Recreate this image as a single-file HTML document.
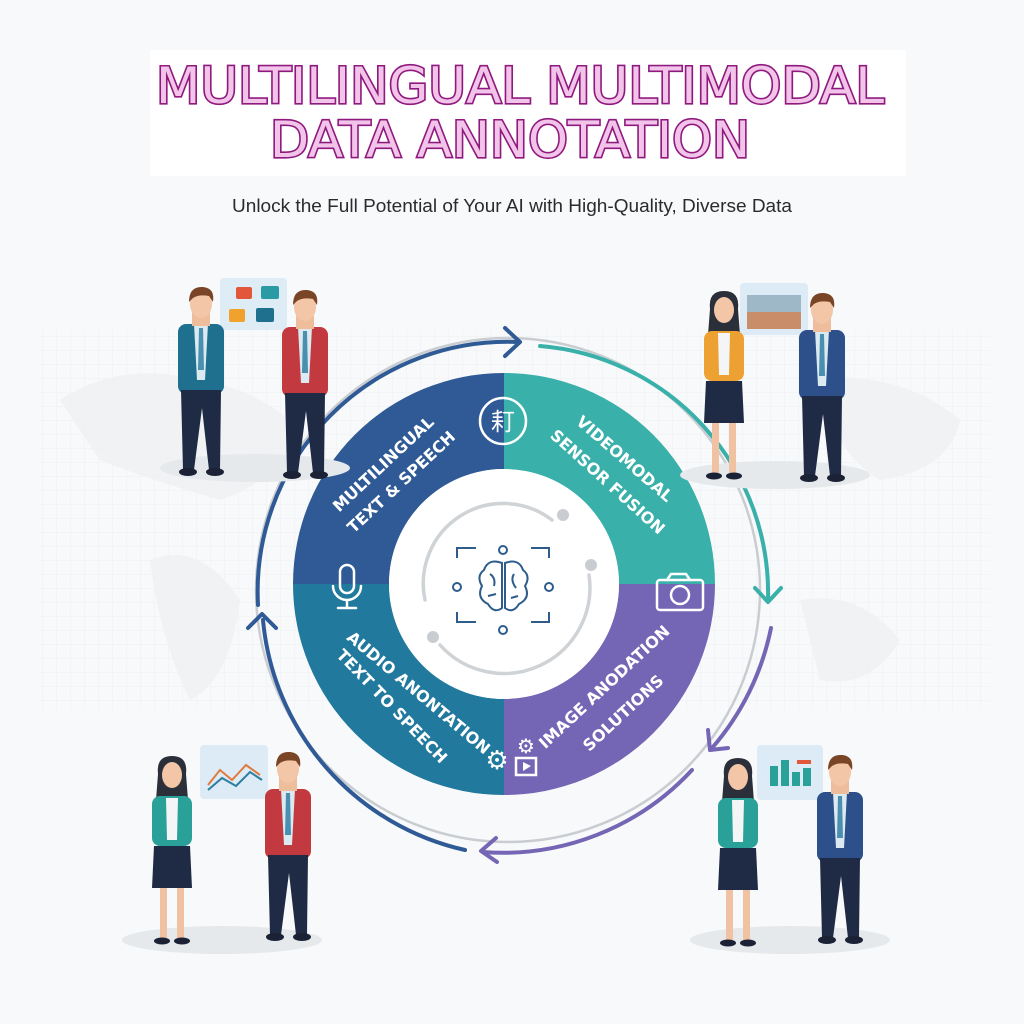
<!DOCTYPE html>
<html><head><meta charset="utf-8"><style>
html,body{margin:0;padding:0;background:#f7f8f9;}
svg{display:block;}
</style></head><body>
<svg width="1024" height="1024" viewBox="0 0 1024 1024" xmlns="http://www.w3.org/2000/svg">
<defs>
<pattern id="grid" width="14" height="14" patternUnits="userSpaceOnUse"><path d="M14 0H0V14" fill="none" stroke="#e6e9ec" stroke-width="0.8"/></pattern>
<symbol id="man" overflow="visible">
  <rect x="-23" y="34" width="46" height="70" rx="8" fill="currentColor"/>
  <polygon points="-7,34 7,34 4,90 -4,90" fill="#dbe9f1"/>
  <polygon points="-2,38 2,38 3,80 -3,80" fill="#4a8fb0"/>
  <rect x="-9" y="22" width="18" height="14" fill="#eebd9c"/>
  <ellipse cx="0" cy="14" rx="11" ry="14" fill="#f2c6a6"/>
  <path d="M-12 12 Q-12 -4 2 -3 Q14 -2 12 12 L8 6 Q-2 4 -8 8 Z" fill="#7a4427"/>
  <polygon points="-20,100 20,100 19,180 8,180 1,118 -7,180 -18,180" fill="#1f2a44"/>
  <ellipse cx="-13" cy="182" rx="9" ry="4" fill="#1b2235"/>
  <ellipse cx="14" cy="182" rx="9" ry="4" fill="#1b2235"/>
</symbol>
<symbol id="woman" overflow="visible">
  <path d="M-14 14 Q-16 -4 0 -4 Q16 -4 14 14 L16 40 L-16 40 Z" fill="#2b2f3a"/>
  <rect x="-20" y="36" width="40" height="50" rx="8" fill="currentColor"/>
  <polygon points="-6,38 6,38 5,80 -5,80" fill="#f3f5f7"/>
  <ellipse cx="0" cy="15" rx="10" ry="13" fill="#f2c6a6"/>
  <path d="M-18 86 L18 86 L20 128 L-20 128 Z" fill="#1f2a44"/>
  <rect x="-12" y="128" width="7" height="50" fill="#f0c2a2"/>
  <rect x="5" y="128" width="7" height="50" fill="#f0c2a2"/>
  <ellipse cx="-10" cy="181" rx="8" ry="3.5" fill="#1b2235"/>
  <ellipse cx="10" cy="181" rx="8" ry="3.5" fill="#1b2235"/>
</symbol>
</defs>

<rect width="1024" height="1024" fill="#f8f9fa"/>
<rect x="40" y="330" width="950" height="380" fill="url(#grid)" opacity="0.7"/>
<g fill="#eef0f2" opacity="0.8">
<path d="M60 400 Q120 360 200 380 Q260 390 300 430 Q280 480 220 500 Q150 480 100 460 Z"/>
<path d="M150 560 Q200 540 240 600 Q230 680 190 700 Q160 640 150 560 Z"/>
<path d="M820 380 Q900 370 960 420 Q950 470 880 480 Q830 450 820 380 Z"/>
<path d="M800 600 Q860 590 900 640 Q870 690 820 680 Z"/>
</g>

<!-- Title box -->
<rect x="150" y="50" width="756" height="126" fill="#ffffff"/>
<g font-family="DejaVu Sans, Liberation Sans, sans-serif" font-size="50" text-anchor="middle" fill="#f3c4ea" stroke="#8f1a7e" stroke-width="3.2" paint-order="stroke">
<text x="520" y="103" textLength="728" lengthAdjust="spacingAndGlyphs">MULTILINGUAL MULTIMODAL</text>
<text x="510" y="157" textLength="480" lengthAdjust="spacingAndGlyphs">DATA ANNOTATION</text>
</g>
<text x="512" y="212" text-anchor="middle" font-family="Liberation Sans, sans-serif" font-size="18" fill="#2b2b2b" textLength="560" lengthAdjust="spacingAndGlyphs">Unlock the Full Potential of Your AI with High-Quality, Diverse Data</text>

<circle cx="508" cy="590" r="252" fill="none" stroke="#c9cdd1" stroke-width="2.5"/>
<g fill="none" stroke-width="4" stroke-linecap="round" stroke-linejoin="round">
<path d="M258 605 A250 250 0 0 1 518 342" stroke="#2f5a96"/>
<path d="M505 328 L520 342 L505 356" stroke="#2f5a96"/>
<path d="M540 346 A248 248 0 0 1 768 600" stroke="#3ab0aa"/>
<path d="M755 588 L768 602 L781 588" stroke="#3ab0aa"/>
<path d="M771 628 A262 262 0 0 1 712 748" stroke="#7566b5"/>
<path d="M708 730 L710 750 L728 748" stroke="#7566b5"/>
<path d="M692 770 A258 258 0 0 1 483 852" stroke="#7566b5"/>
<path d="M496 838 L481 851 L497 862" stroke="#7566b5"/>
<path d="M465 850 A260 260 0 0 1 263 620" stroke="#2f5a96"/>
<path d="M248 628 L262 614 L276 628" stroke="#2f5a96"/>
</g>

<path d="M293 584 A211 211 0 0 1 504 373 L504 469 A115 115 0 0 0 389 584 Z" fill="#2f5a96"/>
<path d="M504 373 A211 211 0 0 1 715 584 L619 584 A115 115 0 0 0 504 469 Z" fill="#3ab0aa"/>
<path d="M715 584 A211 211 0 0 1 504 795 L504 699 A115 115 0 0 0 619 584 Z" fill="#7566b5"/>
<path d="M504 795 A211 211 0 0 1 293 584 L389 584 A115 115 0 0 0 504 699 Z" fill="#21799e"/>
<circle cx="504" cy="584" r="115" fill="#ffffff"/>

<g fill="none" stroke="#cfd3d6" stroke-width="3.5" stroke-linecap="round">
<path d="M425 600 A80 80 0 0 1 552 520"/>
<path d="M589 575 A86 86 0 0 1 440 645"/>
</g>
<circle cx="563" cy="515" r="6" fill="#c9cdd1"/>
<circle cx="591" cy="565" r="6" fill="#c9cdd1"/>
<circle cx="433" cy="637" r="6" fill="#c9cdd1"/>
<g fill="none" stroke="#2e5d8c" stroke-width="2">
<path d="M457 558 V548 H476 M531 548 H549 V558 M549 612 V622 H531 M476 622 H457 V612"/>
<circle cx="503" cy="550" r="4"/><circle cx="503" cy="630" r="4"/>
<circle cx="457" cy="587" r="4"/><circle cx="549" cy="587" r="4"/>
<path d="M502 563 Q488 558 484 570 Q476 576 482 586 Q476 598 488 604 Q494 614 502 608 Z"/>
<path d="M505 563 Q519 558 523 570 Q531 576 525 586 Q531 598 519 604 Q513 614 505 608 Z"/>
<path d="M490 574 Q496 578 494 586 M514 574 Q510 580 516 588 M488 596 L496 594 M518 596 L511 598"/>
</g>

<g fill="none" stroke="#ffffff" stroke-width="2.5" stroke-linecap="round">
<circle cx="503" cy="421" r="23"/>
<path d="M340 586 V572 A7 7 0 0 1 354 572 V586 A7 7 0 0 1 340 586 Z M333 586 A14 14 0 0 0 361 586 M347 600 V607 M338 608 H356"/>
<rect x="657" y="580" width="46" height="30" rx="3"/>
<path d="M667 580 L671 574 H686 L690 580"/>
<circle cx="680" cy="595" r="9"/>
<rect x="516" y="758" width="20" height="17"/>
</g>
<text x="503" y="430" text-anchor="middle" font-family="Noto Sans CJK SC, sans-serif" font-size="24" fill="#ffffff">耓</text>
<polygon points="523,762 531,766 523,771" fill="#fff"/>
<text x="497" y="769" text-anchor="middle" font-family="DejaVu Sans, sans-serif" font-size="26" fill="#ffffff">⚙</text>
<text x="526" y="753" text-anchor="middle" font-family="DejaVu Sans, sans-serif" font-size="20" fill="#ffffff">⚙</text>

<g font-family="DejaVu Sans, Liberation Sans, sans-serif" font-size="16" font-weight="bold" fill="#ffffff" text-anchor="middle">
<text transform="translate(387,468) rotate(-43)">MULTILINGUAL</text>
<text transform="translate(405,486) rotate(-43)">TEXT &amp; SPEECH</text>
<text transform="translate(621,463) rotate(41)">VIDEOMODAL</text>
<text transform="translate(604,486) rotate(42)">SENSOR FUSION</text>
<text transform="translate(415,697) rotate(40)">AUDIO ANONTATION</text>
<text transform="translate(388,710) rotate(46)">TEXT TO SPEECH</text>
<text transform="translate(608,691) rotate(-43)">IMAGE ANODATION</text>
<text transform="translate(627,717) rotate(-43)">SOLUTIONS</text>
</g>

<g fill="#e6e9ec">
<ellipse cx="255" cy="468" rx="95" ry="14"/>
<ellipse cx="775" cy="475" rx="95" ry="14"/>
<ellipse cx="222" cy="940" rx="100" ry="14"/>
<ellipse cx="790" cy="940" rx="100" ry="14"/>
</g>

<rect x="220" y="278" width="67" height="52" rx="4" fill="#dcebf6" opacity="0.95"/>
<rect x="236" y="287" width="16" height="12" rx="2" fill="#e2563c"/>
<rect x="261" y="286" width="18" height="13" rx="2" fill="#2a9aa3"/>
<rect x="229" y="309" width="16" height="13" rx="2" fill="#f0a22d"/>
<rect x="256" y="308" width="18" height="14" rx="2" fill="#1f6f8f"/>
<use href="#man" x="201" y="290" style="color:#1f6f8f"/>
<use href="#man" x="305" y="293" style="color:#c23a3f"/>
<rect x="740" y="283" width="68" height="52" rx="4" fill="#dcebf6"/>
<rect x="747" y="295" width="54" height="34" fill="#9fb8c8"/>
<rect x="747" y="312" width="54" height="17" fill="#c98d6a"/>
<use href="#woman" x="724" y="295" style="color:#eda132"/>
<use href="#man" x="822" y="296" style="color:#2d4f8a"/>
<rect x="200" y="745" width="68" height="54" rx="4" fill="#dcebf6"/>
<path d="M208 785 L220 770 L232 780 L246 765 L260 775" fill="none" stroke="#e07a3c" stroke-width="2"/>
<path d="M208 790 L222 778 L236 786 L250 772 L262 780" fill="none" stroke="#2a7fa0" stroke-width="2"/>
<use href="#woman" x="172" y="760" style="color:#2aa198"/>
<use href="#man" x="288" y="755" style="color:#c23a3f"/>
<rect x="757" y="745" width="66" height="55" rx="4" fill="#dcebf6"/>
<rect x="770" y="766" width="8" height="20" fill="#2aa198"/><rect x="781" y="760" width="8" height="26" fill="#2aa198"/>
<rect x="792" y="772" width="8" height="14" fill="#2aa198"/><rect x="803" y="768" width="8" height="18" fill="#2aa198"/>
<rect x="797" y="760" width="14" height="4" fill="#e2563c"/>
<use href="#woman" x="738" y="762" style="color:#2aa198"/>
<use href="#man" x="840" y="758" style="color:#2d4f8a"/>
</svg>
</body></html>
